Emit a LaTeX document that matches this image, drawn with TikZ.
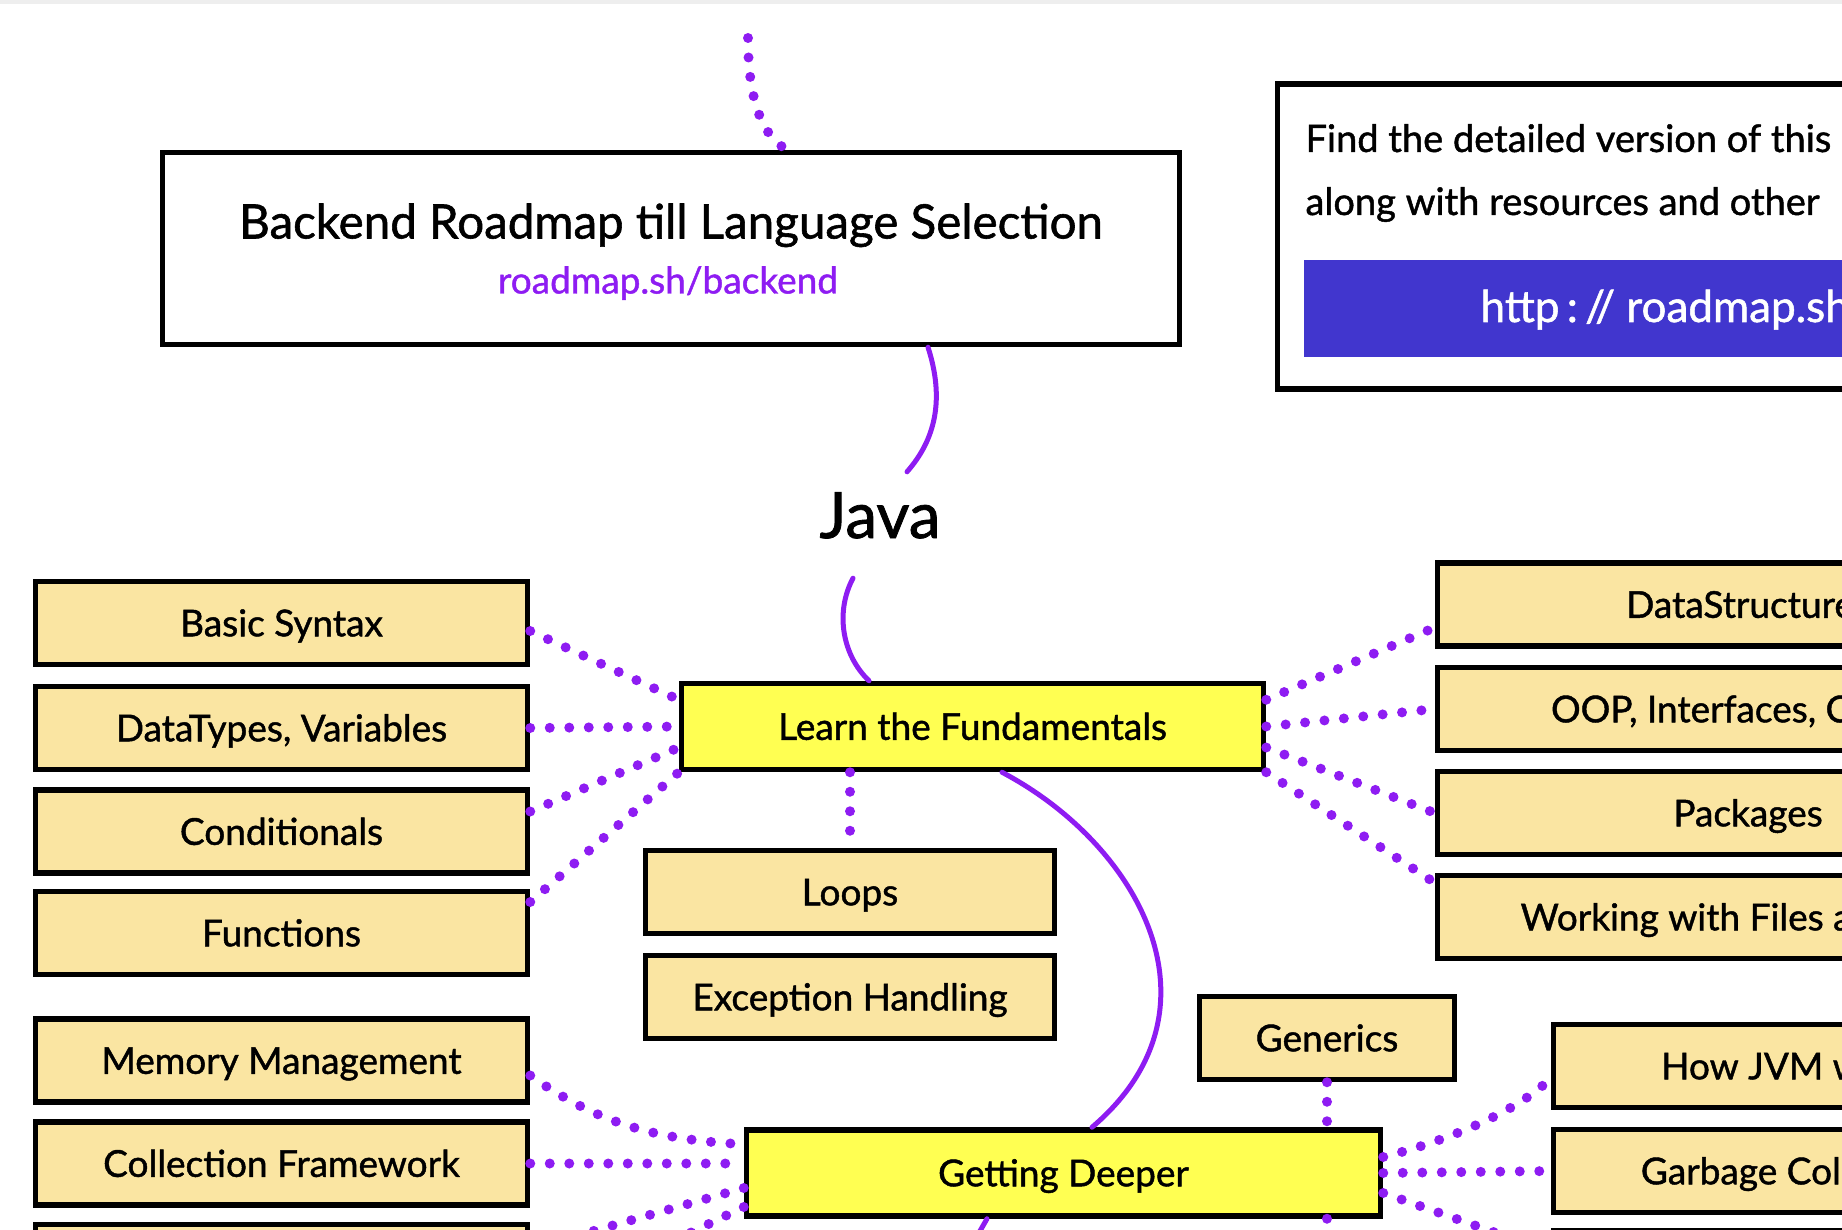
\documentclass[tikz,border=0pt]{standalone}
\usepackage{fontspec}
\setmainfont{Lato}[FakeBold=1.2]
\usepackage{color}
\definecolor{lilac}{HTML}{8E1CF2}
\definecolor{boxfill}{HTML}{FAE5A2}
\definecolor{hotfill}{HTML}{FFFF52}
\definecolor{btnblue}{HTML}{4136CE}
\definecolor{rimgray}{HTML}{EEEEEE}

\begin{document}
\begin{tikzpicture}[x=1pt,y=-1pt,
  box/.style={draw,line width=5.5pt,fill=boxfill,minimum width=#1,minimum height=83pt,
    font=\fontsize{37}{40}\selectfont,text height=26.6pt,text depth=0pt},
  hot/.style={box=#1,fill=hotfill,minimum height=86pt},
  link/.style={draw=lilac,line width=5pt,line cap=round},
  dots/.style={draw=lilac,line width=10pt,line cap=round,dash pattern=on 0pt off 19.5pt}]
\path[use as bounding box] (0,0) rectangle (1842,1230);
\clip (0,0) rectangle (1842,1230);
\fill[rimgray] (0,0) rectangle (1842,4);

\node[draw,line width=5.5pt,minimum width=1017pt,minimum height=192pt] (top) at (671,248.5) {};
\node[anchor=base,font=\fontsize{47.5}{50}\selectfont] (ttl) at (671,238.5) {Backend Roadmap till Language Selection};
\node[anchor=base,font=\fontsize{37}{40}\selectfont,text=lilac] (url) at (668,293.5) {roadmap.sh/backend};

\node[draw,line width=5.5pt,minimum width=700pt,minimum height=305pt,anchor=north west] (info) at (1274.5,81.5) {};
\node[anchor=base west,font=\fontsize{38}{40}\selectfont] (find) at (1302,152) {Find the detailed version of this};
\node[anchor=base west,font=\fontsize{38}{40}\selectfont] (along) at (1302,215) {along with resources and other};
\node[fill=btnblue,minimum width=700pt,minimum height=97pt,anchor=north west] (btn) at (1304,260) {};
\node[anchor=base west,text=white,font=\fontsize{44}{46}\selectfont] (http) at (1477,322) {http\,:\,// roadmap.sh};

\node[anchor=base,font=\fontsize{64}{66}\selectfont,text height=66pt,text depth=40pt,inner sep=0pt] (java) at (880,538) {Java};

\node[hot=582pt] (lf) at (972.5,726.5) {Learn the Fundamentals};
\node[hot=634pt] (gd) at (1063.5,1173) {Getting Deeper};

\node[box=492pt] (bs) at (281.5,623) {Basic Syntax};
\node[box=492pt] (dt) at (281.5,728) {DataTypes, Variables};
\node[box=492pt] (cond) at (281.5,831.5) {Conditionals};
\node[box=492pt] (func) at (281.5,933) {Functions};
\node[box=492pt] (mem) at (281.5,1060.5) {Memory Management};
\node[box=492pt] (coll) at (281.5,1163.5) {Collection Framework};
\node[box=492pt] (nxt) at (281.5,1266) {};

\node[box=409pt] (loops) at (850,892) {Loops};
\node[box=409pt] (exc) at (850,997) {Exception Handling};
\node[box=255pt] (gen) at (1327,1038) {Generics};

\node[box=621pt] (ds) at (1748,604.5) {DataStructures};
\node[box=621pt] (oop) at (1748,709) {OOP, Interfaces, Classes};
\node[box=621pt] (pkg) at (1748,813) {Packages};
\node[box=621pt] (wf) at (1748,917) {Working with Files and APIs};

\node[box=485pt] (jvm) at (1796,1066) {How JVM works};
\node[box=485pt] (gc) at (1796,1171) {Garbage Collection};
\node[box=485pt] (nxt2) at (1796,1272) {};

\coordinate (up) at (748,38);
\coordinate (dn) at (968,1252);
\coordinate (dn2) at (1319,1252);
\coordinate (sw1) at (520,1252);
\coordinate (sw2) at (655,1250);
\coordinate (se) at (1550,1252);

\draw[dots] (up) .. controls (748,95) and (760,135) .. ([xshift=116pt]top.north);
\draw[link] ([xshift=257pt]top.south) .. controls (945,400) and (935,440) .. ([xshift=27pt]java.north);
\draw[link] ([xshift=-27pt]java.south) .. controls (835,612) and (842,655) .. ([xshift=-103.5pt]lf.north);
\draw[link] ([xshift=29.5pt]lf.south) .. controls (1140,845) and (1230,1010) .. ([xshift=28.5pt]gd.north);
\draw[link] ([xshift=-76.5pt]gd.south) -- (dn);

\draw[dots] ([yshift=-8pt]bs.east) -- ([yshift=-19pt]lf.north west);
\draw[dots] (dt.east) -- (lf.west);
\draw[dots] ([yshift=20pt]cond.east) -- ([yshift=-21pt]lf.west);
\draw[dots] ([yshift=31pt]func.east) -- (lf.south west);
\draw[dots] (lf.south -| loops.north) -- (loops.north);

\draw[dots] ([yshift=-19pt]lf.north east) -- ([yshift=-23pt]ds.west);
\draw[dots] (lf.east) -- (oop.west);
\draw[dots] ([yshift=-21pt]lf.east) -- (pkg.west);
\draw[dots] (lf.south east) -- ([yshift=-10pt]wf.north west);

\draw[dots] ([yshift=-15pt]mem.east) .. controls (600,1125) and (660,1140) .. ([yshift=-17pt]gd.north west);
\draw[dots] (coll.east) -- (gd.west |- coll.east);
\draw[dots] ([yshift=-15pt]gd.west) -- (sw1);
\draw[dots] ([yshift=-34pt]gd.west) -- (sw2);

\draw[dots] ([yshift=16pt]gd.east) .. controls (1450,1140) and (1520,1110) .. ([yshift=-12pt]jvm.west);
\draw[dots] (gd.east) -- (gc.west);
\draw[dots] ([yshift=-20pt]gd.east) -- (se);
\draw[dots] (gen.south) -- (gen.south |- gd.north);
\draw[dots] (gen.south |- gd.south) -- (dn2);
\end{tikzpicture}
\end{document}
